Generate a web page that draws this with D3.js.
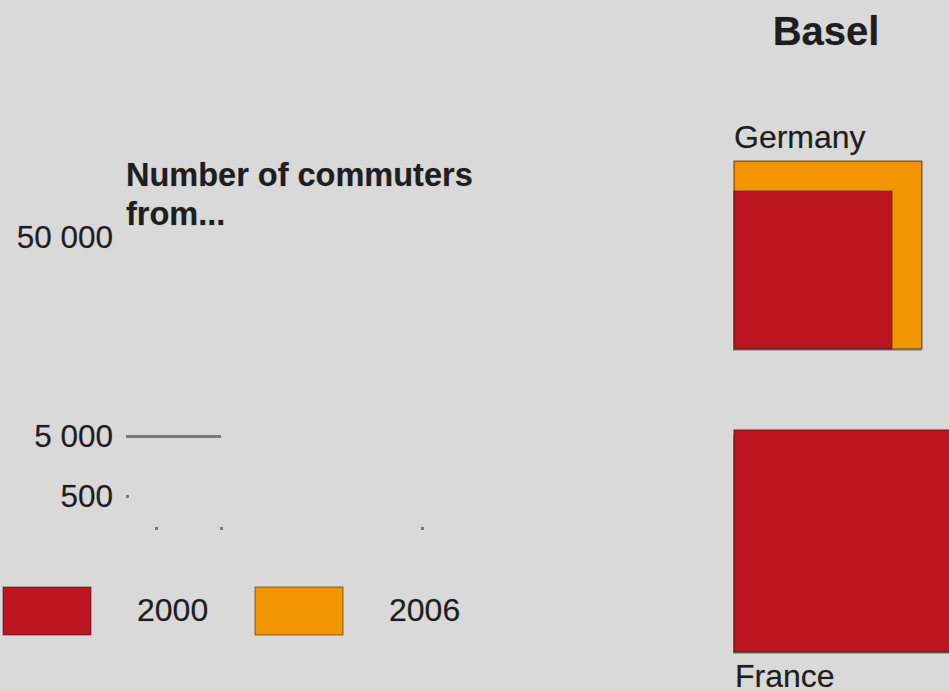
<!DOCTYPE html>
<html>
<head>
<meta charset="utf-8">
<script src="https://cdn.jsdelivr.net/npm/d3@7"></script>
<style>
  html, body { margin: 0; padding: 0; background: #d9d9d9; overflow: hidden; }
  svg text { font-family: "Liberation Sans", Arial, sans-serif; fill: #1e1e1e;
             stroke: rgba(30,30,30,0.35); stroke-width: 0.6px; }
</style>
</head>
<body>
<div id="chart"></div>
<script>
// data
const city = "Basel";
const origins = ["Germany", "France"];
const years = ["2000", "2006"];
const commuters2000 = [14400, 28500];
const commuters2006 = [20400, 27000];
const scaleLabels = [50000, 5000, 500];
const strayDots = [156, 221, 422];

var width = 949
var height = 691

var svg = d3.select("#chart")
  .append("svg")
    .attr("width", width)
    .attr("height", height)

svg.append("rect")
  .attr("width", width)
  .attr("height", height)
  .attr("fill", "#d9d9d9")

var color = d3.scaleOrdinal(years, ["#bd1421", "#f39500"]);

// square side ~ sqrt(value)
var side = d3.scaleSqrt().domain([0, 5000]).range([0, 93]);

// title
svg.append("text")
  .attr("x", 826).attr("y", 45)
  .attr("text-anchor", "middle")
  .style("font-size", "40px")
  .style("font-weight", "bold")
  .text(city)

// squares, anchored bottom-left
var baseX = 734
var bottoms = d3.scaleOrdinal(origins, [349, 652]);

origins.forEach(function(o, i) {
  var vals = [commuters2006[i], commuters2000[i]]; // bigger year drawn first
  var yrs = ["2006", "2000"];
  vals.forEach(function(v, j) {
    var s = side(v);
    svg.append("rect")
      .attr("x", baseX)
      .attr("y", bottoms(o) - s)
      .attr("width", s)
      .attr("height", s)
      .attr("fill", color(yrs[j]))
      .attr("stroke", "rgba(60,30,20,0.55)")
      .attr("stroke-width", 1.5)
  });
  // soft shadow on bottom edge
  var sMax = side(d3.max(vals));
  svg.append("line")
    .attr("x1", baseX - 1).attr("x2", baseX + sMax)
    .attr("y1", bottoms(o) + 1).attr("y2", bottoms(o) + 1)
    .attr("stroke", "rgba(70,60,50,0.45)")
    .attr("stroke-width", 1.5)
});

svg.append("text")
  .attr("x", 734).attr("y", 148)
  .style("font-size", "32px")
  .text(origins[0])

svg.append("text")
  .attr("x", 735).attr("y", 687)
  .style("font-size", "32px")
  .text(origins[1])

// size legend heading
var head = svg.append("text")
  .attr("x", 126).attr("y", 186)
  .style("font-size", "32.5px")
  .style("font-weight", "bold")
head.append("tspan").attr("x", 126).text("Number of commuters")
head.append("tspan").attr("x", 126).attr("dy", 39).text("from...")

// scale labels with their reference lines
var labelY = d3.scaleOrdinal(scaleLabels, [248, 447, 507]);
var lineLen = d3.scaleLinear().domain([500, 5000]).range([3, 95]);
var fmt = function(v) { return d3.format(",")(v).replace(/,/g, " "); };

scaleLabels.forEach(function(v) {
  svg.append("text")
    .attr("x", 113).attr("y", labelY(v))
    .attr("text-anchor", "end")
    .style("font-size", "31.5px")
    .text(fmt(v))
  var len = lineLen(v);
  if (126 + len < width) {
    svg.append("rect")
      .attr("x", 126).attr("y", labelY(v) - 12)
      .attr("width", len).attr("height", 3)
      .attr("fill", "#7a7a7a")
  }
});

strayDots.forEach(function(x) {
  svg.append("rect")
    .attr("x", x - 1).attr("y", 527)
    .attr("width", 3).attr("height", 3)
    .attr("fill", "#7a7a7a")
});

// colour legend
var legX = d3.scaleOrdinal(years, [3, 255]);
years.forEach(function(y) {
  svg.append("rect")
    .attr("x", legX(y)).attr("y", 587)
    .attr("width", 88).attr("height", 48)
    .attr("fill", color(y))
    .attr("stroke", "rgba(60,30,20,0.5)")
    .attr("stroke-width", 1.2)
  svg.append("text")
    .attr("x", legX(y) + 134).attr("y", 621)
    .style("font-size", "32px")
    .text(y)
});
</script>
</body>
</html>
